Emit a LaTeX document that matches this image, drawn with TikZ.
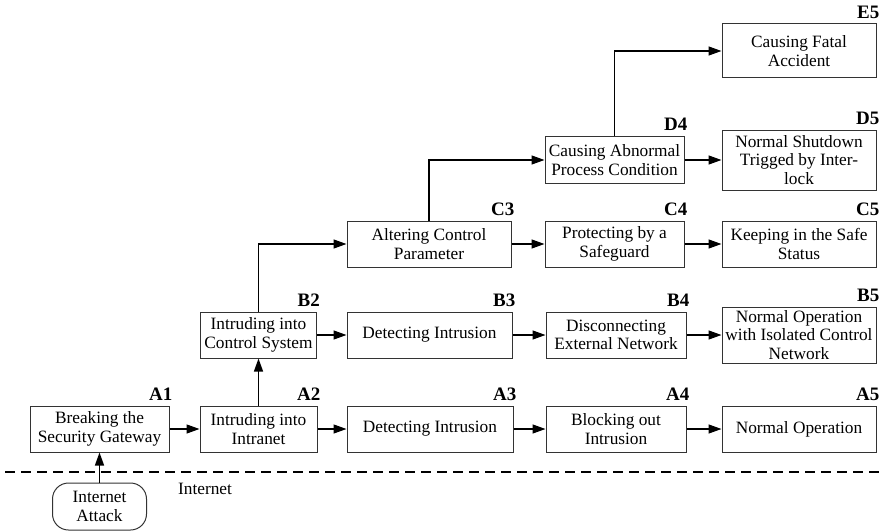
\documentclass[tikz,border=0pt]{standalone}
\usepackage{fontspec}
\setmainfont{Liberation Serif}
\usetikzlibrary{arrows.meta}

\begin{document}
\begin{tikzpicture}[
    x=1pt, y=-1pt,
    % Style for the event boxes
    box/.style={draw=black!80, line width=1pt, align=center, inner sep=2pt,
        minimum height=46pt, font=\fontsize{17.3}{18.5}\selectfont},
    % Style for the rounded start box
    term/.style={box, rounded corners=16pt, minimum width=94pt, minimum height=47pt},
    % Style for the bold tags above the boxes
    tag/.style={anchor=south east, inner sep=0pt, font=\bfseries\fontsize{19}{20}\selectfont},
    % Style for the connectors
    flow/.style={-{Triangle[length=13pt, width=9pt]}, line width=1.3pt}
]
\useasboundingbox (0,0) rectangle (885,532);

% ==========================
% Row A
% ==========================
\node[box, minimum width=139pt] (A1) at (99.5,429) {Breaking the\\Security Gateway};
\node[box, minimum width=117pt] (A2) at (258.5,429) {Intruding into\\Intranet};
\node[box, minimum width=166pt] (A3) at (430,429) {Detecting Intrusion};
\node[box, minimum width=140pt] (A4) at (616,429) {Blocking out\\Intrusion};
\node[box, minimum width=154pt] (A5) at (799,429) {Normal Operation};

% ==========================
% Row B
% ==========================
\node[box, minimum width=116pt] (B2) at (258.5,335) {Intruding into\\Control System};
\node[box, minimum width=165pt] (B3) at (429.5,335) {Detecting Intrusion};
\node[box, minimum width=140pt] (B4) at (616,335) {Disconnecting\\External Network};
\node[box, minimum width=154pt, minimum height=56pt] (B5) at (799,335) {Normal Operation\\with Isolated Control\\Network};

% ==========================
% Row C
% ==========================
\node[box, minimum width=164pt] (C3) at (429,244) {Altering Control\\Parameter};
\node[box, minimum width=139pt] (C4) at (614.5,244) {Protecting by a\\Safeguard};
\node[box, minimum width=154pt] (C5) at (799,244) {Keeping in the Safe\\Status};

% ==========================
% Rows D and E
% ==========================
\node[box, minimum width=139pt, minimum height=47pt] (D4) at (614.5,160) {Causing Abnormal\\Process Condition};
\node[box, minimum width=154pt, minimum height=60pt] (D5) at (799,160) {Normal Shutdown\\Trigged by Inter-\\lock};
\node[box, minimum width=154pt, minimum height=54pt] (E5) at (799,51) {Causing Fatal\\Accident};

% Bold tags on the top right corners
\foreach \n in {A1,A2,A3,A4,A5,B2,B3,B4,B5,C3,C4,C5,D4,D5,E5}
    \node[tag] (t\n) at ([xshift=3pt, yshift=5pt]\n.north east) {\n};

% Network border and the attack source
\draw[line width=2pt, dash pattern=on 10pt off 6pt] (5,472) -- (885,472);
\node[term] (attack) at (99.5,506.5) {Internet\\Attack};
\node[font=\fontsize{17.3}{18.5}\selectfont] (net) at (205,489) {Internet};

% Straight connectors
\draw[flow] (attack) -- (A1);
\draw[flow] (A1) -- (A2);
\draw[flow] (A2) -- (A3);
\draw[flow] (A3) -- (A4);
\draw[flow] (A4) -- (A5);
\draw[flow] (A2) -- (B2);
\draw[flow] (B2) -- (B3);
\draw[flow] (B3) -- (B4);
\draw[flow] (B4) -- (B5);
\draw[flow] (C3) -- (C4);
\draw[flow] (C4) -- (C5);
\draw[flow] (D4) -- (D5);

% Elbow connectors going up a row
\draw[flow] (B2.north) |- (C3.west);
\draw[flow] (C3.north) |- (D4.west);
\draw[flow] (D4.north) |- (E5.west);

\end{tikzpicture}
\end{document}
